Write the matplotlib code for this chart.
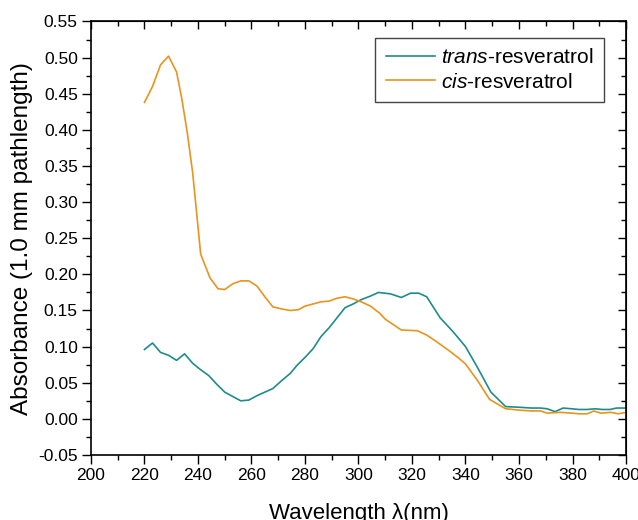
import matplotlib
matplotlib.use('Agg')
import matplotlib.pyplot as plt
from matplotlib.ticker import MultipleLocator

plt.rcParams['font.family'] = ['Liberation Sans', 'DejaVu Sans']
plt.rcParams['mathtext.fontset'] = 'custom'
plt.rcParams['mathtext.it'] = 'Liberation Sans:italic'
plt.rcParams['mathtext.rm'] = 'Liberation Sans'

# trans-resveratrol spectrum
trans_wl = [220, 223, 226, 229, 232, 235, 238, 241, 244, 247,
            250, 253, 256, 259, 262, 265, 268, 271, 274.5, 277,
            280, 283, 286, 289, 292, 295, 298, 301, 304.5, 307.5,
            312, 316, 319.5, 322.5, 325.5, 330.5, 335.5, 340, 344.5, 349.5,
            355, 360.5, 364.5, 368, 370.5, 373.5, 376.5, 379.5, 382.5, 385.5,
            388.5, 391, 394, 396.5, 400]
trans_abs = [.096, .105, .092, .088, .081, .090, .077, .068, .060, .048,
             .037, .031, .025, .026, .032, .037, .042, .052, .063, .074,
             .085, .097, .114, .126, .140, .154, .159, .165, .170, .175,
             .173, .168, .174, .174, .169, .140, .120, .100, .071, .037,
             .017, .016, .015, .015, .014, .010, .015, .014, .013, .013,
             .014, .013, .013, .015, .015]

# cis-resveratrol spectrum
cis_wl = [220, 223, 226, 229, 232, 234, 236, 238, 239.5, 241,
          244.5, 247.5, 250, 253, 256, 259, 262, 265, 268, 271.5,
          274.5, 277.5, 280, 283, 286, 289, 292, 295, 298, 301,
          304.5, 308, 310, 316, 322, 325.5, 329.5, 334, 337.5, 340,
          344.5, 349, 355, 360.5, 364.5, 368, 370.5, 375.5, 379.5, 382.5,
          385.5, 388, 390.5, 394.5, 397, 400]
cis_abs = [.438, .460, .490, .502, .480, .442, .396, .341, .285, .228,
           .195, .180, .179, .187, .191, .191, .184, .169, .155, .152,
           .150, .151, .156, .159, .162, .163, .167, .169, .166, .162,
           .156, .146, .138, .123, .122, .116, .106, .094, .084, .076,
           .053, .027, .014, .012, .011, .011, .008, .009, .008, .007,
           .007, .011, .008, .009, .007, .009]

fig = plt.figure(figsize=(6.38, 5.2), dpi=100)
ax = fig.add_axes([0.1426, 0.125, 0.8386, 0.8337])

ax.plot(trans_wl, trans_abs, color='#1f8b8b', lw=1.2, label=r'$\it{trans}$-resveratrol')
ax.plot(cis_wl, cis_abs, color='#e8941e', lw=1.2, label=r'$\it{cis}$-resveratrol')

ax.set_xlim(200, 400)
ax.set_ylim(-0.05, 0.55)
ax.xaxis.set_major_locator(MultipleLocator(20))
ax.xaxis.set_minor_locator(MultipleLocator(10))
ax.yaxis.set_major_locator(MultipleLocator(0.05))
ax.yaxis.set_minor_locator(MultipleLocator(0.025))
ax.yaxis.set_major_formatter(plt.FormatStrFormatter('%.2f'))
ax.tick_params(which='major', direction='out', length=6.5, width=1, labelsize=12.5, pad=3)
ax.tick_params(which='minor', direction='out', length=3.5, width=1)

# top / right ticks point inward
top = ax.secondary_xaxis('top')
top.xaxis.set_major_locator(MultipleLocator(20))
top.xaxis.set_minor_locator(MultipleLocator(10))
top.tick_params(which='major', direction='in', length=6, width=1, labeltop=False)
top.tick_params(which='minor', direction='in', length=3.5, width=1)
right = ax.secondary_yaxis('right')
right.yaxis.set_major_locator(MultipleLocator(0.05))
right.yaxis.set_minor_locator(MultipleLocator(0.025))
right.tick_params(which='major', direction='in', length=6, width=1, labelright=False)
right.tick_params(which='minor', direction='in', length=3.5, width=1)

for s in ax.spines.values():
    s.set_linewidth(1.2)

ax.set_xlabel('Wavelength λ(nm)', fontsize=16, labelpad=14)
ax.set_ylabel('Absorbance (1.0 mm pathlength)', fontsize=17.5, labelpad=4)

leg = ax.legend(loc='upper right', bbox_to_anchor=(0.959, 0.962), borderaxespad=0,
                fontsize=15, fancybox=False, edgecolor='#444444', framealpha=1,
                handlelength=2.35, borderpad=0.5, labelspacing=0.25, handletextpad=0.3)
leg.get_frame().set_linewidth(1.0)

fig.savefig('out.png', dpi=100)
